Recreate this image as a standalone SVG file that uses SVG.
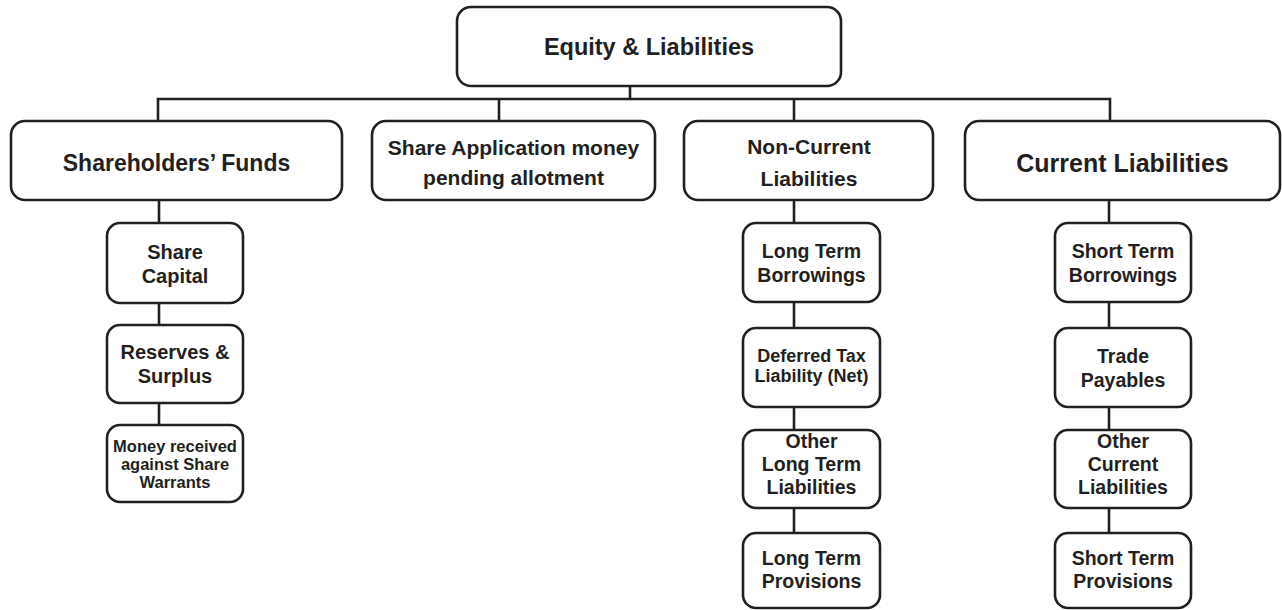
<svg xmlns="http://www.w3.org/2000/svg" width="1282" height="610" viewBox="0 0 1282 610">
<style>
.box{fill:#fff;stroke:#231f20;stroke-width:2.6}
.ln{fill:none;stroke:#231f20;stroke-width:2.6}
text{font-family:"Liberation Sans",Arial,sans-serif;font-weight:bold;fill:#231f20;text-anchor:middle}
.t1{font-size:23px}
.t2{font-size:20px}
.t2b{font-size:21px}
.t3{font-size:19.5px}
.t4{font-size:18px}
.t5{font-size:16.5px}
</style>
<rect width="1282" height="610" fill="#fff"/>
<g id="connectors">
<path class="ln" d="M630 86V99M158 121V99H1110V121M499 99V121M794 99V121"/>
<path class="ln" d="M159 200V223M159 303V325M159 403V425"/>
<path class="ln" d="M794 200V223M794 302V328M794 407V430M794 508V533"/>
<path class="ln" d="M1109 200V223M1109 302V328M1109 407V430M1109 508V533"/>
</g>
<g id="equity-liabilities"><rect class="box" x="457" y="7" width="384" height="79" rx="14"/><text class="t1" x="649" y="55" style="font-size:23.5px">Equity &amp; Liabilities</text></g>
<g id="shareholders-funds"><rect class="box" x="11" y="121" width="331" height="79" rx="14"/><text class="t1" x="176.5" y="171">Shareholders’ Funds</text></g>
<g id="share-application"><rect class="box" x="372" y="121" width="283" height="79" rx="14"/><text class="t2b" x="513.5" y="155">Share Application money</text><text class="t2b" x="513.5" y="185">pending allotment</text></g>
<g id="non-current-liabilities"><rect class="box" x="684" y="121" width="249" height="79" rx="14"/><text class="t2b" x="809" y="154">Non-Current</text><text class="t2b" x="809" y="186">Liabilities</text></g>
<g id="current-liabilities"><rect class="box" x="965" y="121" width="315" height="79" rx="14"/><text class="t1" x="1122.5" y="172" style="font-size:25px">Current Liabilities</text></g>

<g id="share-capital"><rect class="box" x="107" y="223" width="136" height="80" rx="13"/><text class="t2" x="175" y="259">Share</text><text class="t2" x="175" y="283">Capital</text></g>
<g id="reserves-surplus"><rect class="box" x="107" y="325" width="136" height="78" rx="13"/><text class="t2" x="175" y="359">Reserves &amp;</text><text class="t2" x="175" y="383">Surplus</text></g>
<g id="money-received"><rect class="box" x="107" y="425" width="136" height="77" rx="13"/><text class="t5" x="175" y="452">Money received</text><text class="t5" x="175" y="470">against Share</text><text class="t5" x="175" y="488">Warrants</text></g>

<g id="long-term-borrowings"><rect class="box" x="743" y="223" width="137" height="79" rx="13"/><text class="t3" x="811.5" y="258">Long Term</text><text class="t3" x="811.5" y="282">Borrowings</text></g>
<g id="deferred-tax"><rect class="box" x="743" y="328" width="137" height="79" rx="13"/><text class="t4" x="811.5" y="362">Deferred Tax</text><text class="t4" x="811.5" y="382">Liability (Net)</text></g>
<g id="other-long-term-liabilities"><rect class="box" x="743" y="430" width="137" height="78" rx="13"/><text class="t3" x="811.5" y="448">Other</text><text class="t3" x="811.5" y="471">Long Term</text><text class="t3" x="811.5" y="494">Liabilities</text></g>
<g id="long-term-provisions"><rect class="box" x="743" y="533" width="137" height="75" rx="13"/><text class="t3" x="811.5" y="565">Long Term</text><text class="t3" x="811.5" y="588">Provisions</text></g>

<g id="short-term-borrowings"><rect class="box" x="1055" y="223" width="136" height="79" rx="13"/><text class="t3" x="1123" y="258">Short Term</text><text class="t3" x="1123" y="282">Borrowings</text></g>
<g id="trade-payables"><rect class="box" x="1055" y="328" width="136" height="79" rx="13"/><text class="t3" x="1123" y="363">Trade</text><text class="t3" x="1123" y="387">Payables</text></g>
<g id="other-current-liabilities"><rect class="box" x="1055" y="430" width="136" height="78" rx="13"/><text class="t3" x="1123" y="448">Other</text><text class="t3" x="1123" y="471">Current</text><text class="t3" x="1123" y="494">Liabilities</text></g>
<g id="short-term-provisions"><rect class="box" x="1055" y="533" width="136" height="75" rx="13"/><text class="t3" x="1123" y="565">Short Term</text><text class="t3" x="1123" y="588">Provisions</text></g>
</svg>
